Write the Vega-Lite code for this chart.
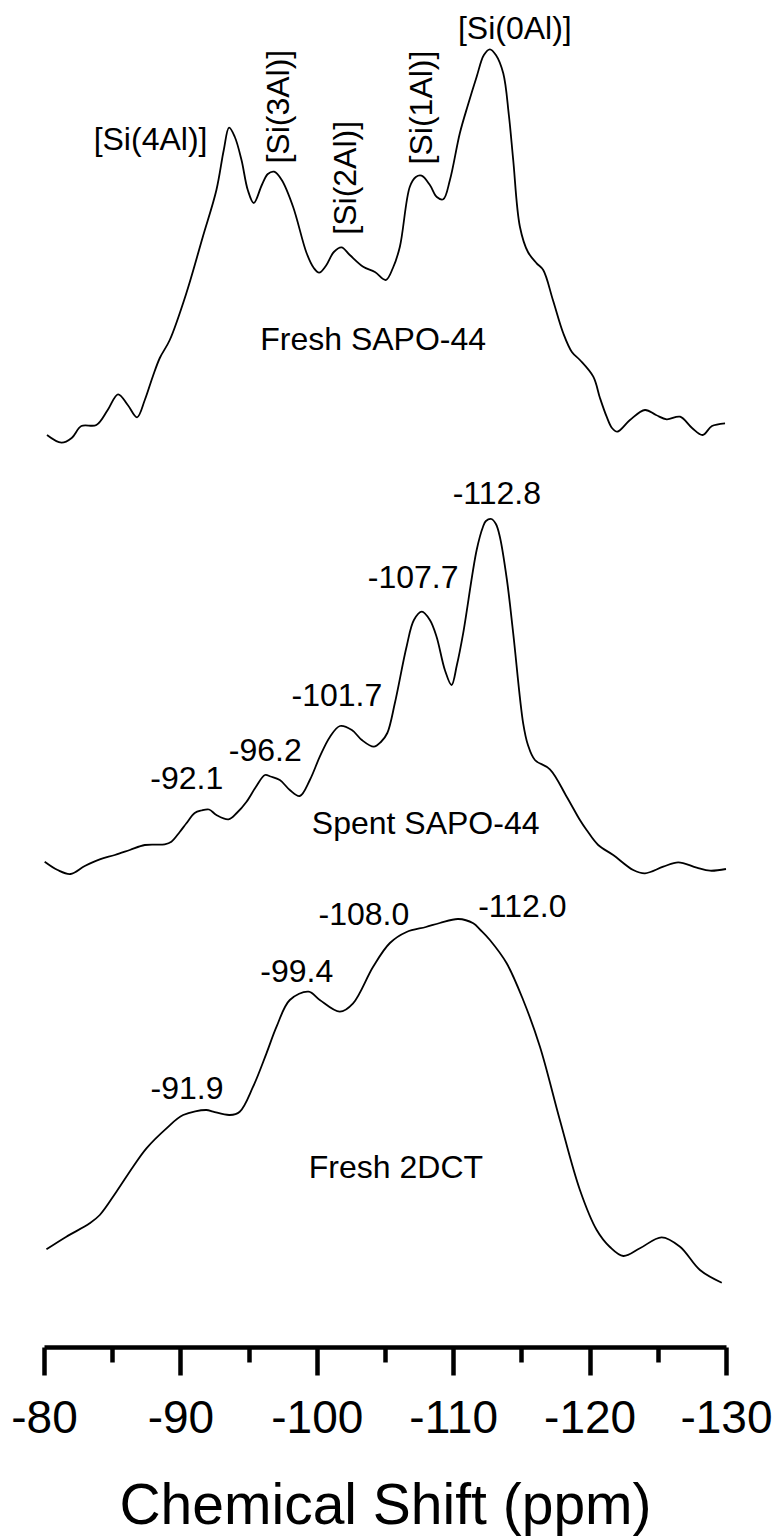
{
  "$schema": "https://vega.github.io/schema/vega-lite/v6.json",
  "autosize": "none",
  "width": 682,
  "height": 1347,
  "padding": {"left": 44, "top": 0, "right": 51, "bottom": 190},
  "background": "white",
  "config": {"view": {"stroke": null}},
  "datasets": {
    "spectra": [
      {"sample": "Fresh SAPO-44", "ppm": -80.22, "intensity": 9.12},
      {"sample": "Fresh SAPO-44", "ppm": -81.28, "intensity": 9.043},
      {"sample": "Fresh SAPO-44", "ppm": -82.03, "intensity": 9.09},
      {"sample": "Fresh SAPO-44", "ppm": -82.74, "intensity": 9.21},
      {"sample": "Fresh SAPO-44", "ppm": -83.84, "intensity": 9.22},
      {"sample": "Fresh SAPO-44", "ppm": -84.67, "intensity": 9.37},
      {"sample": "Fresh SAPO-44", "ppm": -85.43, "intensity": 9.527},
      {"sample": "Fresh SAPO-44", "ppm": -86.14, "intensity": 9.42},
      {"sample": "Fresh SAPO-44", "ppm": -86.82, "intensity": 9.297},
      {"sample": "Fresh SAPO-44", "ppm": -87.39, "intensity": 9.47},
      {"sample": "Fresh SAPO-44", "ppm": -87.97, "intensity": 9.703},
      {"sample": "Fresh SAPO-44", "ppm": -88.49, "intensity": 9.89},
      {"sample": "Fresh SAPO-44", "ppm": -89.22, "intensity": 10.07},
      {"sample": "Fresh SAPO-44", "ppm": -90.44, "intensity": 10.54},
      {"sample": "Fresh SAPO-44", "ppm": -91.64, "intensity": 11.1},
      {"sample": "Fresh SAPO-44", "ppm": -92.64, "intensity": 11.57},
      {"sample": "Fresh SAPO-44", "ppm": -93.18, "intensity": 11.97},
      {"sample": "Fresh SAPO-44", "ppm": -93.57, "intensity": 12.193},
      {"sample": "Fresh SAPO-44", "ppm": -93.99, "intensity": 12.1},
      {"sample": "Fresh SAPO-44", "ppm": -94.48, "intensity": 11.87},
      {"sample": "Fresh SAPO-44", "ppm": -94.94, "intensity": 11.57},
      {"sample": "Fresh SAPO-44", "ppm": -95.38, "intensity": 11.44},
      {"sample": "Fresh SAPO-44", "ppm": -95.97, "intensity": 11.62},
      {"sample": "Fresh SAPO-44", "ppm": -96.41, "intensity": 11.73},
      {"sample": "Fresh SAPO-44", "ppm": -96.87, "intensity": 11.753},
      {"sample": "Fresh SAPO-44", "ppm": -97.43, "intensity": 11.67},
      {"sample": "Fresh SAPO-44", "ppm": -98.26, "intensity": 11.403},
      {"sample": "Fresh SAPO-44", "ppm": -99.25, "intensity": 10.94},
      {"sample": "Fresh SAPO-44", "ppm": -99.78, "intensity": 10.79},
      {"sample": "Fresh SAPO-44", "ppm": -100.17, "intensity": 10.743},
      {"sample": "Fresh SAPO-44", "ppm": -100.66, "intensity": 10.81},
      {"sample": "Fresh SAPO-44", "ppm": -101.25, "intensity": 10.95},
      {"sample": "Fresh SAPO-44", "ppm": -101.81, "intensity": 10.997},
      {"sample": "Fresh SAPO-44", "ppm": -102.42, "intensity": 10.92},
      {"sample": "Fresh SAPO-44", "ppm": -103.4, "intensity": 10.803},
      {"sample": "Fresh SAPO-44", "ppm": -104.26, "intensity": 10.75},
      {"sample": "Fresh SAPO-44", "ppm": -105.06, "intensity": 10.67},
      {"sample": "Fresh SAPO-44", "ppm": -105.58, "intensity": 10.79},
      {"sample": "Fresh SAPO-44", "ppm": -106.09, "intensity": 11.003},
      {"sample": "Fresh SAPO-44", "ppm": -106.82, "intensity": 11.603},
      {"sample": "Fresh SAPO-44", "ppm": -107.26, "intensity": 11.7},
      {"sample": "Fresh SAPO-44", "ppm": -107.68, "intensity": 11.713},
      {"sample": "Fresh SAPO-44", "ppm": -108.29, "intensity": 11.62},
      {"sample": "Fresh SAPO-44", "ppm": -108.8, "intensity": 11.5},
      {"sample": "Fresh SAPO-44", "ppm": -109.27, "intensity": 11.477},
      {"sample": "Fresh SAPO-44", "ppm": -109.76, "intensity": 11.67},
      {"sample": "Fresh SAPO-44", "ppm": -110.49, "intensity": 12.14},
      {"sample": "Fresh SAPO-44", "ppm": -111.08, "intensity": 12.42},
      {"sample": "Fresh SAPO-44", "ppm": -111.72, "intensity": 12.703},
      {"sample": "Fresh SAPO-44", "ppm": -112.25, "intensity": 12.92},
      {"sample": "Fresh SAPO-44", "ppm": -112.69, "intensity": 12.977},
      {"sample": "Fresh SAPO-44", "ppm": -113.13, "intensity": 12.92},
      {"sample": "Fresh SAPO-44", "ppm": -113.67, "intensity": 12.737},
      {"sample": "Fresh SAPO-44", "ppm": -114.08, "intensity": 12.32},
      {"sample": "Fresh SAPO-44", "ppm": -114.4, "intensity": 11.87},
      {"sample": "Fresh SAPO-44", "ppm": -114.89, "intensity": 11.203},
      {"sample": "Fresh SAPO-44", "ppm": -115.48, "intensity": 10.95},
      {"sample": "Fresh SAPO-44", "ppm": -116.12, "intensity": 10.837},
      {"sample": "Fresh SAPO-44", "ppm": -116.6, "intensity": 10.77},
      {"sample": "Fresh SAPO-44", "ppm": -117.31, "intensity": 10.47},
      {"sample": "Fresh SAPO-44", "ppm": -118.07, "intensity": 10.137},
      {"sample": "Fresh SAPO-44", "ppm": -118.7, "intensity": 9.95},
      {"sample": "Fresh SAPO-44", "ppm": -119.29, "intensity": 9.87},
      {"sample": "Fresh SAPO-44", "ppm": -120.27, "intensity": 9.703},
      {"sample": "Fresh SAPO-44", "ppm": -120.76, "intensity": 9.49},
      {"sample": "Fresh SAPO-44", "ppm": -121.25, "intensity": 9.303},
      {"sample": "Fresh SAPO-44", "ppm": -121.64, "intensity": 9.19},
      {"sample": "Fresh SAPO-44", "ppm": -122.03, "intensity": 9.153},
      {"sample": "Fresh SAPO-44", "ppm": -122.96, "intensity": 9.27},
      {"sample": "Fresh SAPO-44", "ppm": -124.06, "intensity": 9.37},
      {"sample": "Fresh SAPO-44", "ppm": -124.87, "intensity": 9.32},
      {"sample": "Fresh SAPO-44", "ppm": -125.65, "intensity": 9.277},
      {"sample": "Fresh SAPO-44", "ppm": -126.63, "intensity": 9.303},
      {"sample": "Fresh SAPO-44", "ppm": -127.51, "intensity": 9.19},
      {"sample": "Fresh SAPO-44", "ppm": -128.29, "intensity": 9.12},
      {"sample": "Fresh SAPO-44", "ppm": -128.97, "intensity": 9.21},
      {"sample": "Fresh SAPO-44", "ppm": -129.93, "intensity": 9.237},

      {"sample": "Spent SAPO-44", "ppm": -80.05, "intensity": 4.853},
      {"sample": "Spent SAPO-44", "ppm": -81.0, "intensity": 4.77},
      {"sample": "Spent SAPO-44", "ppm": -81.94, "intensity": 4.73},
      {"sample": "Spent SAPO-44", "ppm": -82.99, "intensity": 4.81},
      {"sample": "Spent SAPO-44", "ppm": -84.09, "intensity": 4.877},
      {"sample": "Spent SAPO-44", "ppm": -85.19, "intensity": 4.92},
      {"sample": "Spent SAPO-44", "ppm": -86.29, "intensity": 4.97},
      {"sample": "Spent SAPO-44", "ppm": -87.39, "intensity": 5.02},
      {"sample": "Spent SAPO-44", "ppm": -88.85, "intensity": 5.027},
      {"sample": "Spent SAPO-44", "ppm": -89.34, "intensity": 5.053},
      {"sample": "Spent SAPO-44", "ppm": -89.95, "intensity": 5.15},
      {"sample": "Spent SAPO-44", "ppm": -90.44, "intensity": 5.237},
      {"sample": "Spent SAPO-44", "ppm": -91.05, "intensity": 5.34},
      {"sample": "Spent SAPO-44", "ppm": -91.54, "intensity": 5.365},
      {"sample": "Spent SAPO-44", "ppm": -92.1, "intensity": 5.375},
      {"sample": "Spent SAPO-44", "ppm": -92.64, "intensity": 5.32},
      {"sample": "Spent SAPO-44", "ppm": -93.53, "intensity": 5.277},
      {"sample": "Spent SAPO-44", "ppm": -94.13, "intensity": 5.34},
      {"sample": "Spent SAPO-44", "ppm": -94.85, "intensity": 5.453},
      {"sample": "Spent SAPO-44", "ppm": -95.53, "intensity": 5.6},
      {"sample": "Spent SAPO-44", "ppm": -96.2, "intensity": 5.72},
      {"sample": "Spent SAPO-44", "ppm": -96.61, "intensity": 5.705},
      {"sample": "Spent SAPO-44", "ppm": -97.29, "intensity": 5.67},
      {"sample": "Spent SAPO-44", "ppm": -98.02, "intensity": 5.57},
      {"sample": "Spent SAPO-44", "ppm": -98.75, "intensity": 5.51},
      {"sample": "Spent SAPO-44", "ppm": -99.49, "intensity": 5.67},
      {"sample": "Spent SAPO-44", "ppm": -100.22, "intensity": 5.903},
      {"sample": "Spent SAPO-44", "ppm": -100.96, "intensity": 6.1},
      {"sample": "Spent SAPO-44", "ppm": -101.7, "intensity": 6.21},
      {"sample": "Spent SAPO-44", "ppm": -102.57, "intensity": 6.17},
      {"sample": "Spent SAPO-44", "ppm": -103.3, "intensity": 6.07},
      {"sample": "Spent SAPO-44", "ppm": -104.18, "intensity": 6.003},
      {"sample": "Spent SAPO-44", "ppm": -104.7, "intensity": 6.05},
      {"sample": "Spent SAPO-44", "ppm": -105.17, "intensity": 6.14},
      {"sample": "Spent SAPO-44", "ppm": -105.72, "intensity": 6.437},
      {"sample": "Spent SAPO-44", "ppm": -106.58, "intensity": 7.003},
      {"sample": "Spent SAPO-44", "ppm": -107.12, "intensity": 7.27},
      {"sample": "Spent SAPO-44", "ppm": -107.7, "intensity": 7.353},
      {"sample": "Spent SAPO-44", "ppm": -108.29, "intensity": 7.27},
      {"sample": "Spent SAPO-44", "ppm": -108.78, "intensity": 7.103},
      {"sample": "Spent SAPO-44", "ppm": -109.39, "intensity": 6.77},
      {"sample": "Spent SAPO-44", "ppm": -109.88, "intensity": 6.62},
      {"sample": "Spent SAPO-44", "ppm": -110.27, "intensity": 6.82},
      {"sample": "Spent SAPO-44", "ppm": -110.73, "intensity": 7.137},
      {"sample": "Spent SAPO-44", "ppm": -111.72, "intensity": 7.97},
      {"sample": "Spent SAPO-44", "ppm": -112.18, "intensity": 8.2},
      {"sample": "Spent SAPO-44", "ppm": -112.4, "intensity": 8.26},
      {"sample": "Spent SAPO-44", "ppm": -112.8, "intensity": 8.28},
      {"sample": "Spent SAPO-44", "ppm": -113.13, "intensity": 8.23},
      {"sample": "Spent SAPO-44", "ppm": -113.42, "intensity": 8.103},
      {"sample": "Spent SAPO-44", "ppm": -113.94, "intensity": 7.67},
      {"sample": "Spent SAPO-44", "ppm": -114.4, "intensity": 7.137},
      {"sample": "Spent SAPO-44", "ppm": -115.13, "intensity": 6.237},
      {"sample": "Spent SAPO-44", "ppm": -115.48, "intensity": 6.02},
      {"sample": "Spent SAPO-44", "ppm": -115.99, "intensity": 5.87},
      {"sample": "Spent SAPO-44", "ppm": -117.09, "intensity": 5.777},
      {"sample": "Spent SAPO-44", "ppm": -118.32, "intensity": 5.503},
      {"sample": "Spent SAPO-44", "ppm": -119.29, "intensity": 5.27},
      {"sample": "Spent SAPO-44", "ppm": -119.78, "intensity": 5.17},
      {"sample": "Spent SAPO-44", "ppm": -120.63, "intensity": 5.02},
      {"sample": "Spent SAPO-44", "ppm": -121.73, "intensity": 4.92},
      {"sample": "Spent SAPO-44", "ppm": -123.2, "intensity": 4.77},
      {"sample": "Spent SAPO-44", "ppm": -124.06, "intensity": 4.737},
      {"sample": "Spent SAPO-44", "ppm": -125.4, "intensity": 4.803},
      {"sample": "Spent SAPO-44", "ppm": -126.5, "intensity": 4.847},
      {"sample": "Spent SAPO-44", "ppm": -127.85, "intensity": 4.793},
      {"sample": "Spent SAPO-44", "ppm": -128.83, "intensity": 4.763},
      {"sample": "Spent SAPO-44", "ppm": -130.0, "intensity": 4.78},

      {"sample": "Fresh 2DCT", "ppm": -80.18, "intensity": 0.977},
      {"sample": "Fresh 2DCT", "ppm": -81.64, "intensity": 1.103},
      {"sample": "Fresh 2DCT", "ppm": -83.35, "intensity": 1.237},
      {"sample": "Fresh 2DCT", "ppm": -84.09, "intensity": 1.32},
      {"sample": "Fresh 2DCT", "ppm": -85.31, "intensity": 1.553},
      {"sample": "Fresh 2DCT", "ppm": -86.53, "intensity": 1.803},
      {"sample": "Fresh 2DCT", "ppm": -87.51, "intensity": 1.987},
      {"sample": "Fresh 2DCT", "ppm": -88.98, "intensity": 2.187},
      {"sample": "Fresh 2DCT", "ppm": -90.2, "intensity": 2.32},
      {"sample": "Fresh 2DCT", "ppm": -91.9, "intensity": 2.37},
      {"sample": "Fresh 2DCT", "ppm": -92.4, "intensity": 2.353},
      {"sample": "Fresh 2DCT", "ppm": -93.62, "intensity": 2.32},
      {"sample": "Fresh 2DCT", "ppm": -94.35, "intensity": 2.353},
      {"sample": "Fresh 2DCT", "ppm": -95.33, "intensity": 2.603},
      {"sample": "Fresh 2DCT", "ppm": -96.31, "intensity": 2.937},
      {"sample": "Fresh 2DCT", "ppm": -97.05, "intensity": 3.203},
      {"sample": "Fresh 2DCT", "ppm": -98.02, "intensity": 3.47},
      {"sample": "Fresh 2DCT", "ppm": -99.4, "intensity": 3.553},
      {"sample": "Fresh 2DCT", "ppm": -100.22, "intensity": 3.47},
      {"sample": "Fresh 2DCT", "ppm": -101.69, "intensity": 3.353},
      {"sample": "Fresh 2DCT", "ppm": -102.66, "intensity": 3.437},
      {"sample": "Fresh 2DCT", "ppm": -104.13, "intensity": 3.803},
      {"sample": "Fresh 2DCT", "ppm": -105.36, "intensity": 4.04},
      {"sample": "Fresh 2DCT", "ppm": -106.58, "intensity": 4.15},
      {"sample": "Fresh 2DCT", "ppm": -108.0, "intensity": 4.2},
      {"sample": "Fresh 2DCT", "ppm": -109.02, "intensity": 4.24},
      {"sample": "Fresh 2DCT", "ppm": -110.37, "intensity": 4.28},
      {"sample": "Fresh 2DCT", "ppm": -111.47, "intensity": 4.237},
      {"sample": "Fresh 2DCT", "ppm": -112.0, "intensity": 4.17},
      {"sample": "Fresh 2DCT", "ppm": -112.69, "intensity": 4.07},
      {"sample": "Fresh 2DCT", "ppm": -113.92, "intensity": 3.837},
      {"sample": "Fresh 2DCT", "ppm": -115.13, "intensity": 3.47},
      {"sample": "Fresh 2DCT", "ppm": -116.36, "intensity": 3.003},
      {"sample": "Fresh 2DCT", "ppm": -117.82, "intensity": 2.27},
      {"sample": "Fresh 2DCT", "ppm": -119.29, "intensity": 1.57},
      {"sample": "Fresh 2DCT", "ppm": -120.52, "intensity": 1.17},
      {"sample": "Fresh 2DCT", "ppm": -121.49, "intensity": 1.0},
      {"sample": "Fresh 2DCT", "ppm": -122.47, "intensity": 0.91},
      {"sample": "Fresh 2DCT", "ppm": -123.69, "intensity": 0.987},
      {"sample": "Fresh 2DCT", "ppm": -125.28, "intensity": 1.097},
      {"sample": "Fresh 2DCT", "ppm": -126.63, "intensity": 1.003},
      {"sample": "Fresh 2DCT", "ppm": -128.09, "intensity": 0.77},
      {"sample": "Fresh 2DCT", "ppm": -129.69, "intensity": 0.643}
    ],
    "annotations": [
      {"label": "[Si(4Al)]", "ppm": -87.81, "intensity": 12.068},
      {"label": "[Si(0Al)]", "ppm": -114.52, "intensity": 13.183},
      {"label": "Fresh SAPO-44", "ppm": -104.13, "intensity": 10.066},
      {"label": "-92.1", "ppm": -90.47, "intensity": 5.676},
      {"label": "-96.2", "ppm": -96.22, "intensity": 5.961},
      {"label": "-101.7", "ppm": -101.47, "intensity": 6.511},
      {"label": "-107.7", "ppm": -107.06, "intensity": 7.691},
      {"label": "-112.8", "ppm": -113.2, "intensity": 8.526},
      {"label": "Spent SAPO-44", "ppm": -107.98, "intensity": 5.231},
      {"label": "-91.9", "ppm": -90.49, "intensity": 2.581},
      {"label": "-99.4", "ppm": -98.53, "intensity": 3.751},
      {"label": "-108.0", "ppm": -103.45, "intensity": 4.321},
      {"label": "-112.0", "ppm": -115.07, "intensity": 4.401},
      {"label": "Fresh 2DCT", "ppm": -105.8, "intensity": 1.786}
    ],
    "siteLabels": [
      {"label": "[Si(3Al)]", "ppm": -97.25, "intensity": 12.403},
      {"label": "[Si(2Al)]", "ppm": -102.14, "intensity": 11.692},
      {"label": "[Si(1Al)]", "ppm": -107.7, "intensity": 12.395}
    ]
  },
  "encoding": {
    "x": {
      "field": "ppm",
      "type": "quantitative",
      "scale": {"domain": [-130, -80], "reverse": true, "nice": false, "zero": false},
      "axis": {
        "values": [-80, -85, -90, -95, -100, -105, -110, -115, -120, -125, -130],
        "tickSize": {"condition": {"test": "datum.value % 10 === 0", "value": 28}, "value": 15},
        "labelExpr": "datum.value % 10 === 0 ? '' + datum.value : ''",
        "grid": false,
        "domainColor": "black",
        "domainWidth": 4.5,
        "tickColor": "black",
        "tickWidth": 4.5,
        "labelFont": "Liberation Sans",
        "labelFontSize": 46,
        "labelColor": "black",
        "labelPadding": 21,
        "labelFlush": false,
        "labelOverlap": false,
        "labelBound": false,
        "title": "Chemical Shift (ppm)",
        "titleFont": "Liberation Sans",
        "titleFontSize": 57,
        "titleFontWeight": "normal",
        "titleColor": "black",
        "titleBaseline": "alphabetic",
        "titleY": 176
      }
    },
    "y": {
      "field": "intensity",
      "type": "quantitative",
      "scale": {"domain": [0, 13.47], "nice": false, "zero": false},
      "axis": null
    }
  },
  "layer": [
    {
      "data": {"name": "spectra"},
      "mark": {"type": "line", "color": "black", "strokeWidth": 1.8, "interpolate": "catmull-rom"},
      "encoding": {
        "detail": {"field": "sample", "type": "nominal"},
        "order": {"field": "ppm", "type": "quantitative", "sort": "descending"}
      }
    },
    {
      "data": {"name": "annotations"},
      "mark": {"type": "text", "font": "Liberation Sans", "fontSize": 32, "color": "black", "align": "center", "baseline": "middle"},
      "encoding": {"text": {"field": "label", "type": "nominal"}}
    },
    {
      "data": {"name": "siteLabels"},
      "mark": {"type": "text", "font": "Liberation Sans", "fontSize": 32, "color": "black", "align": "center", "baseline": "middle", "angle": 270},
      "encoding": {"text": {"field": "label", "type": "nominal"}}
    }
  ]
}
